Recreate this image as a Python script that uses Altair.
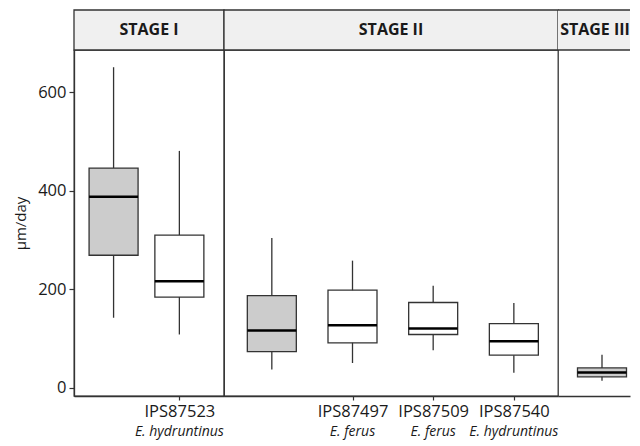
import altair as alt
import pandas as pd

FONT = "Open Sans"

stage_of = ["STAGE I", "STAGE I", "STAGE II", "STAGE II", "STAGE II", "STAGE II", "STAGE III"]
keys = ["I-all", "IPS87523", "II-all", "IPS87497", "IPS87509", "IPS87540", "III-all"]
species = ["", "E. hydruntinus", "", "E. ferus", "E. ferus", "E. hydruntinus", ""]
group = ["pooled", "specimen", "pooled", "specimen", "specimen", "specimen", "pooled"]
whisk_lo = [142, 108, 37, 50, 76, 30, 14]
q1 = [269, 184, 73, 91, 108, 66, 22]
median = [388, 216, 116, 127, 120, 94, 31]
q3 = [446, 310, 187, 198, 173, 130, 40]
whisk_hi = [651, 481, 304, 258, 207, 172, 67]
y_ticks = [0, 200, 400, 600]

df = pd.DataFrame({
    "stage": stage_of, "key": keys, "species": species, "group": group,
    "lo": whisk_lo, "q1": q1, "med": median, "q3": q3, "hi": whisk_hi,
})

H = 346
BOXW = 49
LINE = "#333333"
SW = 1.3
YDOM = [-17, 686]

is_label = "indexof(datum.value, 'IPS') === 0"


def panel(stage, w, show_y, pad, align, open_right=False, title_x=None):
    d = df[df.stage == stage]
    xaxis = alt.Axis(
        title=None, labelAngle=0, grid=False,
        labelExpr=f"{is_label} ? datum.value : ''",
        tickSize=4, tickColor=LINE, tickWidth=1.2,
        tickOpacity={"condition": {"test": f"!({is_label})", "value": 0}, "value": 1},
        domainColor=LINE, domainWidth=SW,
        labelFont=FONT, labelFontSize=16.5, labelColor="#1a1a1a", labelPadding=3,
    )
    xs = alt.X("key:N", sort=list(d.key),
               scale=alt.Scale(type="point", padding=pad, align=align), axis=xaxis)
    yscale = alt.Scale(domain=YDOM, nice=False, zero=False)
    if show_y:
        yaxis = alt.Axis(
            title="µm/day", values=y_ticks, grid=False,
            tickSize=5, tickColor=LINE, tickWidth=1.2,
            domainColor=LINE, domainWidth=SW,
            labelFont=FONT, labelFontSize=16.5, labelColor="#1a1a1a", labelPadding=3,
            titleFont=FONT, titleFontSize=15, titleFontWeight="normal",
            titleColor="#1a1a1a", titlePadding=9,
        )
    else:
        yaxis = None

    base = alt.Chart(d)
    whisker = base.mark_rule(color=LINE, strokeWidth=SW).encode(
        x=xs, y=alt.Y("lo:Q", scale=yscale, axis=yaxis), y2="hi:Q")
    box = base.mark_bar(size=BOXW, stroke=LINE, strokeWidth=SW).encode(
        x=xs, y=alt.Y("q1:Q", scale=yscale, axis=yaxis), y2="q3:Q",
        fill=alt.Fill("group:N", scale=alt.Scale(domain=["pooled", "specimen"],
                                                 range=["#cccccc", "#ffffff"]), legend=None))
    med = base.mark_tick(size=BOXW, thickness=2.5, color="#000000", opacity=1).encode(
        x=xs, y=alt.Y("med:Q", scale=yscale, axis=yaxis))
    sp = base.mark_text(font=FONT, fontSize=14, fontStyle="italic", color="#1a1a1a",
                        baseline="alphabetic").encode(
        x=xs, y=alt.value(H + 40), text="species:N")

    hdr = alt.Chart(pd.DataFrame({"stage": [stage]}))
    layers = []
    if open_right:
        layers.append(hdr.mark_rect(fill="#f0f0f0", strokeWidth=0).encode(
            x=alt.value(0), x2=alt.value(w), y=alt.value(-40), y2=alt.value(0)))
        layers.append(hdr.mark_rule(color=LINE, strokeWidth=SW).encode(
            x=alt.value(0), x2=alt.value(w), y=alt.value(-40)))
        layers.append(hdr.mark_rule(color=LINE, strokeWidth=SW).encode(
            x=alt.value(0), x2=alt.value(w), y=alt.value(0)))
    else:
        layers.append(hdr.mark_rect(fill="#f0f0f0", stroke=LINE, strokeWidth=SW).encode(
            x=alt.value(0), x2=alt.value(w), y=alt.value(-40), y2=alt.value(0)))
    title = hdr.mark_text(font=FONT, fontSize=16, fontWeight="bold", color="#1a1a1a",
                          baseline="middle").encode(
        x=alt.value(title_x if title_x is not None else w / 2), y=alt.value(-20),
        text="stage:N")
    layers += [title, whisker, box, med, sp]

    props = dict(width=w, height=H)
    if open_right:
        props["view"] = alt.ViewBackground(stroke=None)
    return alt.layer(*layers).properties(**props)


W3 = 72
chart = alt.hconcat(
    panel("STAGE I", 150, True, 0.64, 0.47),
    panel("STAGE II", 334, False, 0.57, 0.52),
    panel("STAGE III", W3, False, 0.0, 44 / W3, open_right=True, title_x=37),
    spacing=0,
    bounds="flush",
    padding={"left": 5, "top": 0, "right": 0, "bottom": 0},
).resolve_scale(x="independent").configure_view(stroke=LINE, strokeWidth=SW)

chart.save("out.html", embed_options={"renderer": "svg", "actions": False})
